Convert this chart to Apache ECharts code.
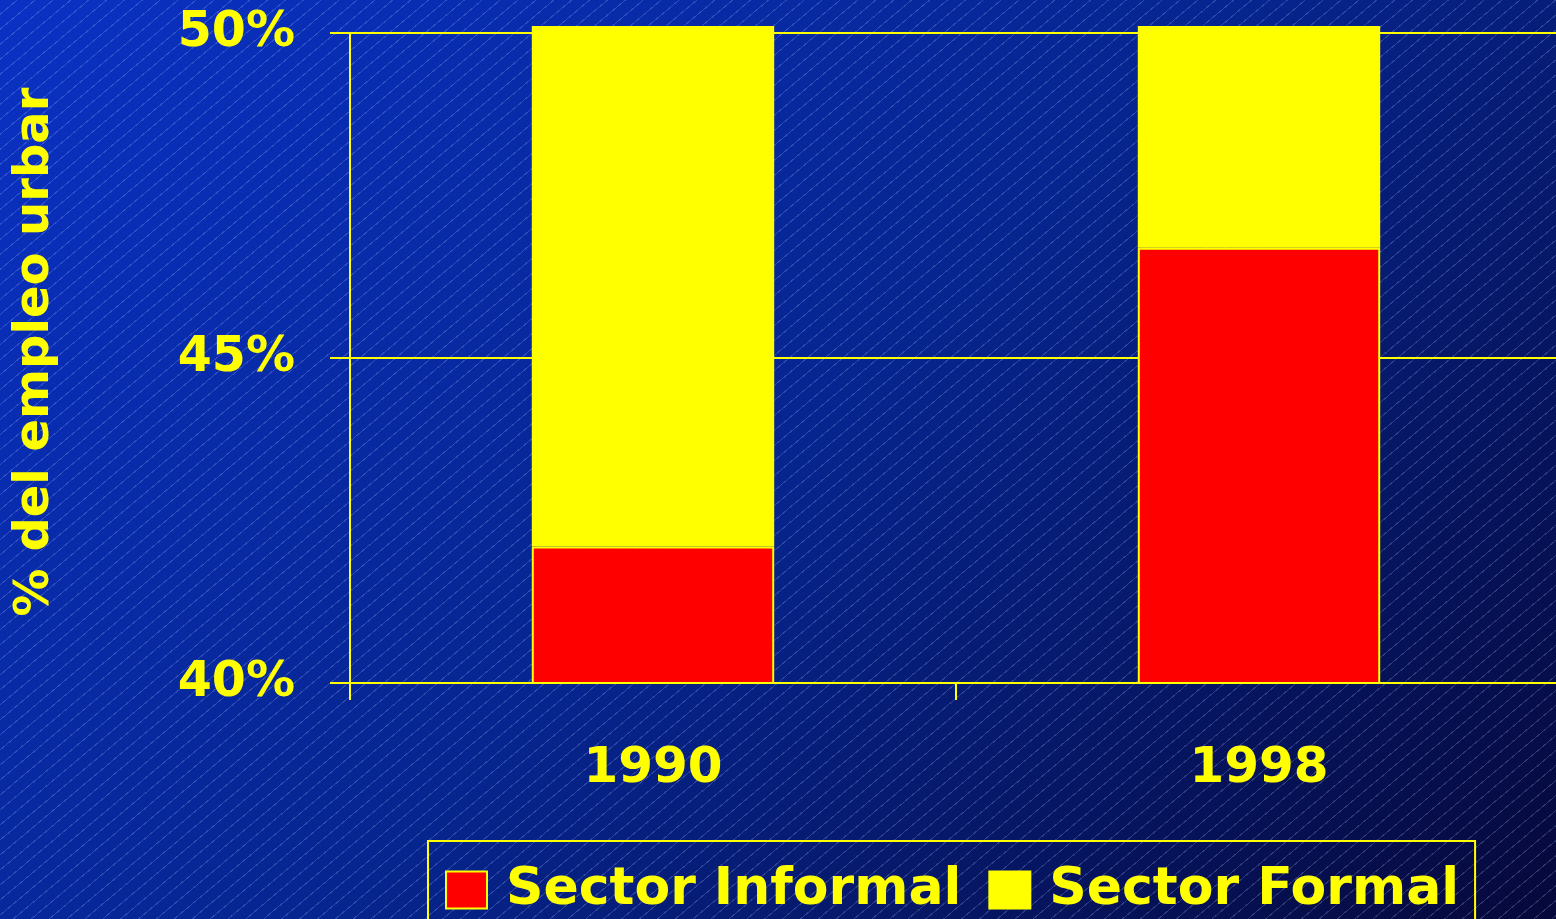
<!DOCTYPE html>
<html>
<head>
<meta charset="utf-8">
<script src="https://cdn.jsdelivr.net/npm/echarts@6/dist/echarts.min.js"></script>
<style>
    html, body {
        margin: 0;
        padding: 0;
        width: 1556px;
        height: 919px;
        overflow: hidden;
    }
    body {
        background:
            repeating-linear-gradient(140deg, rgba(0,0,0,0) 0px, rgba(0,0,0,0) 10.5px, rgba(170,190,255,0.24) 10.5px, rgba(170,190,255,0.24) 11.5px),
            linear-gradient(135deg, #0a31c4 0%, #06258f 50%, #06083a 100%);
    }
    /* el área del gráfico sigue un poco más allá del borde derecho */
    #chart {
        width: 1570px;
        height: 919px;
    }
</style>
</head>
<body>
<div id="chart"></div>
<script>
// datos
const years = ['1990', '1998'];
const informal = [42.1, 46.7];   // Sector Informal
const formal = [57.9, 53.3];     // Sector Formal (resto, recortado por el eje)
const yTicks = [40, 45, 50];

const seriesNames = ['Sector Informal', 'Sector Formal'];
const colors = ['#ff0000', '#ffff00'];
const yellow = '#ffff00';
const font = 'DejaVu Sans';

const chart = echarts.init(document.getElementById('chart'));

const option = {
    backgroundColor: 'transparent',
    animation: false,
    grid: [
        // ejes visibles
        { left: 350, width: 1212, top: 33, bottom: 236 },
        // barras (un poco más alto para que sobresalgan de 50%)
        { left: 350, width: 1212, top: 27, bottom: 236 }
    ],
    xAxis: [{
        gridIndex: 0,
        type: 'category',
        data: years,
        axisLine: { lineStyle: { color: yellow, width: 2 } },
        axisTick: { show: true, length: 17, lineStyle: { color: yellow, width: 2 } },
        axisLabel: {
            color: yellow,
            fontFamily: font,
            fontWeight: 'bold',
            fontSize: 50,
            margin: 61
        }
    }, {
        gridIndex: 1,
        type: 'category',
        data: years,
        show: false
    }],
    yAxis: [{
        gridIndex: 0,
        type: 'value',
        min: yTicks[0],
        max: yTicks[yTicks.length - 1],
        interval: 5,
        name: '% del empleo urbar',
        nameLocation: 'middle',
        nameRotate: 90,
        nameGap: 290,
        nameTextStyle: {
            color: yellow,
            fontFamily: font,
            fontWeight: 'bold',
            fontSize: 48,
            padding: [0, 0, 0, 12]
        },
        axisLine: { show: true, lineStyle: { color: yellow, width: 2 } },
        axisTick: { show: true, length: 20, lineStyle: { color: yellow, width: 2 } },
        splitLine: { show: true, lineStyle: { color: yellow, width: 2 } },
        axisLabel: {
            color: yellow,
            fontFamily: font,
            fontWeight: 'bold',
            fontSize: 49,
            margin: 55,
            formatter: v => v + '%'
        }
    }, {
        gridIndex: 1,
        type: 'value',
        min: 40,
        max: 50.1,
        show: false
    }],
    legend: {
        left: 428,
        top: 841,
        data: seriesNames,
        orient: 'horizontal',
        icon: 'rect',
        itemWidth: 41,
        itemHeight: 37,
        itemGap: 27,
        padding: [23, 16, 23, 17],
        borderColor: yellow,
        borderWidth: 2,
        textStyle: {
            color: yellow,
            fontFamily: font,
            fontWeight: 'bold',
            fontSize: 52,
            padding: [0, 0, 0, 14]
        }
    },
    series: [{
        name: seriesNames[0],
        type: 'bar',
        stack: 'total',
        xAxisIndex: 1,
        yAxisIndex: 1,
        barWidth: '40%',
        data: informal,
        itemStyle: { color: colors[0], borderColor: yellow, borderWidth: 2 }
    }, {
        name: seriesNames[1],
        type: 'bar',
        stack: 'total',
        xAxisIndex: 1,
        yAxisIndex: 1,
        barWidth: '40%',
        data: formal,
        itemStyle: { color: colors[1], borderColor: yellow, borderWidth: 2 }
    }]
};

chart.setOption(option);
</script>
</body>
</html>
